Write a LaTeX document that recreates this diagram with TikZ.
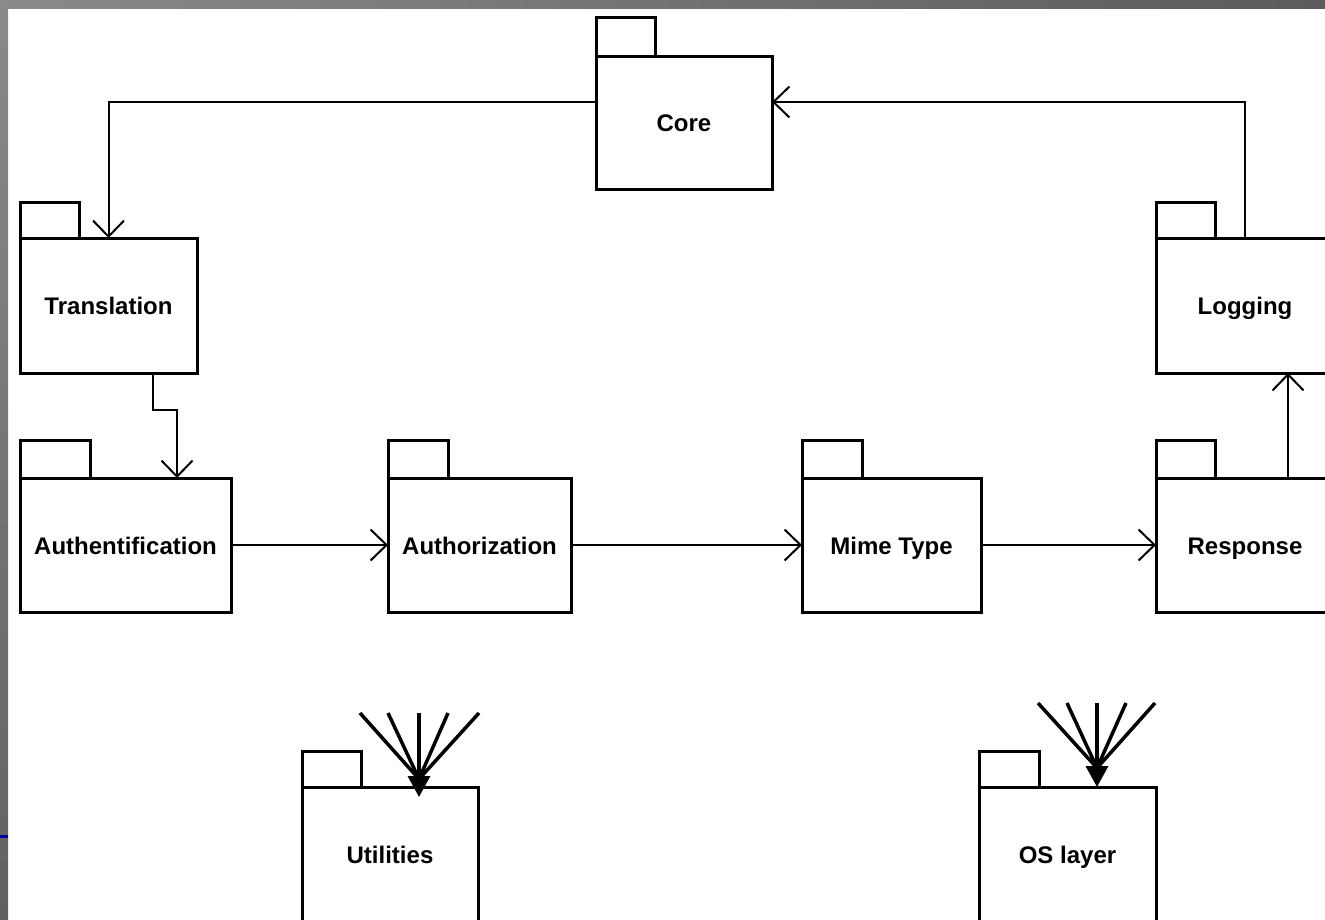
\documentclass[tikz,border=0pt]{standalone}
\usepackage{fontspec}
\setmainfont{Liberation Sans}
\usetikzlibrary{arrows.meta}
\definecolor{stripA}{gray}{0.54}
\definecolor{stripB}{gray}{0.36}
\definecolor{stripC}{gray}{0.38}
\definecolor{edgeblue}{RGB}{0,0,160}
\begin{document}
\begin{tikzpicture}[x=1pt,y=-1pt,
  pkg/.style={draw,line width=3pt,outer sep=0pt,inner sep=0pt,fill=white,
    font=\fontsize{24}{28}\selectfont\bfseries,line join=miter,
    text height=18pt,text depth=0pt},
  tabline/.style={draw,line width=3pt,line join=miter},
  conn/.style={draw,line width=2pt,-{Straight Barb[length=16pt,width=31pt]}},
  fan/.style={draw,line width=3.5pt},
  fanhead/.style={draw,line width=3.5pt,-{Triangle[length=21pt,width=22pt]}},
]
\useasboundingbox (0,0) rectangle (1325,919);
\clip (0,0) rectangle (1325,919);
\fill[white] (0,0) rectangle (1325,919);
\shade[left color=stripA,right color=stripB] (0,0) rectangle (1325,8);
\shade[top color=stripA,bottom color=stripC] (0,0) rectangle (8,919);
\fill[edgeblue] (0,835) rectangle (8,837.5);

% packages
\node[pkg,minimum width=176pt,minimum height=133pt] (Core) at (684,122.5) {Core};
\node[pkg,minimum width=177pt,minimum height=135pt] (Translation) at (108.5,305.5) {Translation};
\node[pkg,minimum width=211pt,minimum height=134pt] (Auth) at (125.5,545) {Authentification};
\node[pkg,minimum width=183pt,minimum height=134pt] (Authz) at (479.5,545) {Authorization};
\node[pkg,minimum width=179pt,minimum height=134pt] (Mime) at (891.5,545) {Mime Type};
\node[pkg,minimum width=178pt,minimum height=134pt] (Response) at (1245,545) {Response};
\node[pkg,minimum width=178pt,minimum height=135pt] (Logging) at (1245,305.5) {Logging};
\node[pkg,minimum width=176pt,minimum height=134pt] (Utilities) at (390,854) {Utilities};
\node[pkg,minimum width=177pt,minimum height=134pt] (OS) at (1067.5,854) {OS layer};

% tabs
\draw[tabline] (Core.north west) rectangle ++(59,-39);
\draw[tabline] (Translation.north west) rectangle ++(59,-36);
\draw[tabline] (Auth.north west) rectangle ++(70,-38);
\draw[tabline] (Authz.north west) rectangle ++(60,-38);
\draw[tabline] (Mime.north west) rectangle ++(60,-38);
\draw[tabline] (Response.north west) rectangle ++(59,-38);
\draw[tabline] (Logging.north west) rectangle ++(59,-36);
\draw[tabline] (Utilities.north west) rectangle ++(59,-36);
\draw[tabline] (OS.north west) rectangle ++(60,-36);

% connectors
\draw[conn] ([yshift=20.5pt]Core.west) -| (Translation.north);
\draw[conn] (Logging.north) |- ([yshift=20.5pt]Core.east);
\draw[conn] ([xshift=44.5pt]Translation.south) -- ++(0,37) -| ([xshift=51.5pt]Auth.north);
\draw[conn] (Auth.east) -- (Authz.west);
\draw[conn] (Authz.east) -- (Mime.west);
\draw[conn] (Mime.east) -- (Response.west);
\draw[conn] ([xshift=43pt]Response.north) -- ([xshift=43pt]Logging.south);

% fan into Utilities
\coordinate (ua) at (360,713);
\coordinate (ub) at (388,713);
\coordinate (uc) at (419,713);
\coordinate (ud) at (448,713);
\coordinate (ue) at (479,713);
\coordinate (utip) at ([xshift=29pt,yshift=-10pt]Utilities.north);
\coordinate (ubase) at ([yshift=18pt]utip);
\draw[fan] (ua) -- (ubase);
\draw[fan] (ub) -- (ubase);
\draw[fan] (ud) -- (ubase);
\draw[fan] (ue) -- (ubase);
\draw[fanhead] (uc) -- (utip);

% fan into OS layer
\coordinate (oa) at (1038,703);
\coordinate (ob) at (1067,703);
\coordinate (oc) at (1097,703);
\coordinate (od) at (1126,703);
\coordinate (oe) at (1155,703);
\coordinate (otip) at ([xshift=29.5pt]OS.north);
\coordinate (obase) at ([yshift=19pt]otip);
\draw[fan] (oa) -- (obase);
\draw[fan] (ob) -- (obase);
\draw[fan] (od) -- (obase);
\draw[fan] (oe) -- (obase);
\draw[fanhead] (oc) -- (otip);
\end{tikzpicture}
\end{document}
